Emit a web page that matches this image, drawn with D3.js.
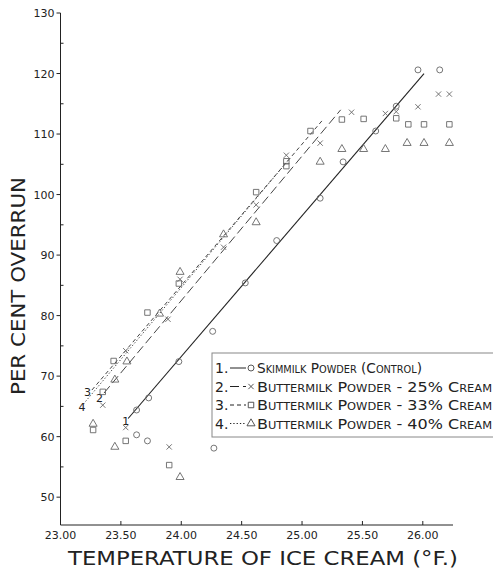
<!DOCTYPE html>
<html>
<head>
<meta charset="utf-8">
<script src="https://cdn.jsdelivr.net/npm/d3@7"></script>
<style>
html,body{margin:0;padding:0;background:#fff;}
svg{display:block;font-family:"DejaVu Sans",sans-serif;}
</style>
</head>
<body>
<svg id="chart" width="493" height="570"></svg>
<script>
/* ---- data ---- */
const X_TICKS = [23.0, 23.5, 24.0, 24.5, 25.0, 25.5, 26.0];
const Y_TICKS = [50, 60, 70, 80, 90, 100, 110, 120, 130];
const Y_MINOR = [55, 65, 75, 85, 95, 105, 115, 125];

const SERIES_NO = ["1.", "2.", "3.", "4."];
const SERIES = ["Skimmilk Powder (Control)", "Buttermilk Powder - 25% Cream",
                "Buttermilk Powder - 33% Cream", "Buttermilk Powder - 40% Cream"];

const skimTemp = [23.63, 23.73, 23.98, 24.26, 24.53, 24.79, 25.15, 25.34, 25.61, 25.78, 25.96, 26.14, 23.63, 23.72, 24.27];
const skimRun  = [64.4, 66.4, 72.4, 77.4, 85.4, 92.4, 99.4, 105.4, 110.5, 114.6, 120.6, 120.6, 60.3, 59.3, 58.1];

const bm25Temp = [23.35, 23.54, 23.89, 23.99, 24.35, 24.62, 24.87, 25.15, 25.41, 25.69, 25.78, 25.96, 26.13, 26.22, 23.54, 23.90];
const bm25Run  = [65.2, 74.2, 79.4, 86.0, 91.3, 98.3, 106.5, 108.5, 113.6, 113.4, 113.7, 114.5, 116.6, 116.6, 61.5, 58.3];

const bm33Temp = [23.27, 23.35, 23.44, 23.72, 23.98, 24.62, 24.87, 24.87, 25.07, 25.33, 25.51, 25.78, 25.88, 26.01, 26.22, 23.54, 23.90];
const bm33Run  = [61.1, 67.4, 72.5, 80.5, 85.3, 100.4, 105.5, 104.7, 110.5, 112.4, 112.5, 112.6, 111.6, 111.6, 111.6, 59.3, 55.3];

const bm40Temp = [23.27, 23.45, 23.55, 23.82, 23.99, 24.35, 24.62, 25.15, 25.33, 25.51, 25.69, 25.87, 26.01, 26.22, 23.45, 23.99];
const bm40Run  = [62.1, 69.4, 72.4, 80.3, 87.2, 93.4, 95.4, 105.4, 107.5, 107.5, 107.5, 108.5, 108.5, 108.5, 58.3, 53.3];

/* fitted lines (end points) */
const fitTemp = [[23.56, 26.01], [23.36, 25.32], [23.26, 25.17], [23.19, 24.90]];
const fitRun  = [[63.0, 120.0], [67.2, 114.0], [67.7, 112.3], [65.4, 106.0]];

/* ---- scales ---- */
const svg = d3.select("#chart");
const x = d3.scaleLinear().domain([23.0, 26.25]).range([60.5, 453]);
const y = d3.scaleLinear().domain([45.4, 130]).range([525, 13]);

const INK = "#222";
const DASH = [null, "9,4", "4,3", "1.3,2"];
const SYM = [d3.symbolCircle, d3.symbolTimes || d3.symbolX, d3.symbolSquare, d3.symbolTriangle];
const SYM_SIZE = [28, 20, 30, 28];
const pts = [[skimTemp, skimRun], [bm25Temp, bm25Run], [bm33Temp, bm33Run], [bm40Temp, bm40Run]];

/* ---- axes ---- */
const ax = svg.append("g").attr("stroke", INK).attr("stroke-width", 1);
ax.append("line").attr("x1", x(23)).attr("x2", x(23)).attr("y1", y(130)).attr("y2", y(45.4));
ax.append("line").attr("x1", x(23)).attr("x2", x(26.25)).attr("y1", y(45.4)).attr("y2", y(45.4));

ax.selectAll(".yt").data(Y_TICKS).join("line")
  .attr("x1", x(23) - 4).attr("x2", x(23)).attr("y1", d => y(d)).attr("y2", d => y(d));
ax.selectAll(".ym").data(Y_MINOR).join("line")
  .attr("x1", x(23)).attr("x2", x(23) + 3).attr("y1", d => y(d)).attr("y2", d => y(d));
ax.selectAll(".xt").data(X_TICKS.slice(1)).join("line")
  .attr("x1", d => x(d)).attr("x2", d => x(d)).attr("y1", y(45.4)).attr("y2", y(45.4) - 4);

svg.append("g").selectAll("text").data(Y_TICKS).join("text")
  .attr("x", x(23) - 6).attr("y", d => y(d) + 4)
  .attr("text-anchor", "end").attr("font-size", 11).attr("fill", INK)
  .text(d => d);
svg.append("g").selectAll("text").data(X_TICKS).join("text")
  .attr("x", d => x(d)).attr("y", 539)
  .attr("text-anchor", "middle").attr("font-size", 11).attr("fill", INK)
  .text(d => d.toFixed(2));

svg.append("text").attr("transform", "translate(25,286) rotate(-90)")
  .attr("text-anchor", "middle").attr("font-size", 19).attr("fill", INK)
  .attr("textLength", 218).attr("lengthAdjust", "spacingAndGlyphs")
  .text("PER CENT OVERRUN");
svg.append("text").attr("x", 263).attr("y", 565)
  .attr("text-anchor", "middle").attr("font-size", 20).attr("fill", INK)
  .attr("textLength", 390).attr("lengthAdjust", "spacingAndGlyphs")
  .text("TEMPERATURE OF ICE CREAM (°F.)");

/* ---- fitted lines ---- */
const lineGen = d3.line().x(d => x(d[0])).y(d => y(d[1]));
fitTemp.forEach((t, i) => {
  svg.append("path").datum(d3.zip(t, fitRun[i]))
    .attr("d", lineGen).attr("fill", "none").attr("stroke", i === 0 ? INK : "#444")
    .attr("stroke-width", i === 0 ? 1.1 : 1)
    .attr("stroke-dasharray", DASH[i]);
});
/* line numbers at the lower end of each line */
const LBL_OFF = [[1, 7], [-1, 9], [-1, 6], [2, 7]];
fitTemp.forEach((t, i) => {
  svg.append("text").attr("x", x(t[0]) + LBL_OFF[i][0]).attr("y", y(fitRun[i][0]) + LBL_OFF[i][1])
    .attr("text-anchor", "end").attr("font-size", 11).attr("fill", INK)
    .text(i + 1);
});

/* ---- markers ---- */
pts.forEach(([tx, ry], i) => {
  svg.append("g").selectAll("path").data(d3.zip(tx, ry)).join("path")
    .attr("transform", d => `translate(${x(d[0])},${y(d[1])})`)
    .attr("d", d3.symbol().type(SYM[i]).size(SYM_SIZE[i]))
    .attr("fill", "none").attr("stroke", "#666").attr("stroke-width", 0.9);
});

/* ---- legend ---- */
const lg = svg.append("g");
lg.append("rect").attr("x", 212).attr("y", 353).attr("width", 300).attr("height", 84)
  .attr("fill", "#fff").attr("stroke", "#888").attr("stroke-width", 1);
const ROW_Y = [368, 386.5, 405, 423.5];
const TXT_W = [165, 235, 235, 235];
SERIES.forEach((s, i) => {
  const cy = ROW_Y[i];
  lg.append("text").attr("x", 215).attr("y", cy + 5).attr("font-size", 14).attr("fill", INK)
    .text(SERIES_NO[i]);
  lg.append("line").attr("x1", 230).attr("x2", 246).attr("y1", cy).attr("y2", cy)
    .attr("stroke", INK).attr("stroke-width", 1).attr("stroke-dasharray", DASH[i]);
  lg.append("path").attr("transform", `translate(251,${cy})`)
    .attr("d", d3.symbol().type(SYM[i]).size(SYM_SIZE[i]))
    .attr("fill", "none").attr("stroke", "#444").attr("stroke-width", 0.9);
  lg.append("text").attr("x", 257).attr("y", cy + 5).attr("font-size", 14)
    .style("font-variant", "small-caps").attr("fill", INK)
    .attr("textLength", TXT_W[i]).attr("lengthAdjust", "spacingAndGlyphs")
    .text(s);
});
</script>
</body>
</html>
